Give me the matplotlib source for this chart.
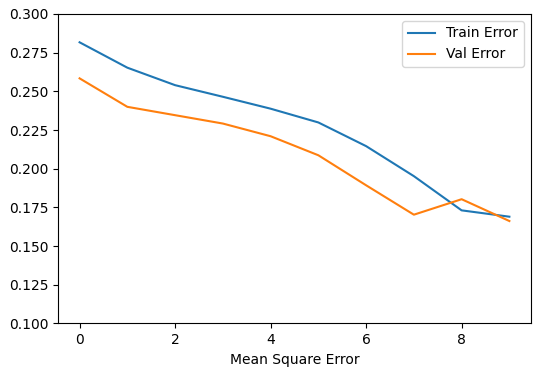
import numpy as np
import matplotlib
matplotlib.use("Agg")
import matplotlib.pyplot as plt

epochs = np.arange(10)
train_error = [0.2817, 0.2653, 0.254, 0.2465, 0.2388, 0.2299, 0.2146, 0.1952, 0.1731, 0.169]
val_error = [0.2584, 0.240, 0.2346, 0.2292, 0.221, 0.2087, 0.1893, 0.1703, 0.1803, 0.1662]

fig, ax = plt.subplots(figsize=(5.33, 3.68), dpi=100)
fig.subplots_adjust(left=0.109, right=0.996, top=0.962, bottom=0.121)

ax.plot(epochs, train_error, label="Train Error")
ax.plot(epochs, val_error, label="Val Error")
ax.set_ylim(0.1, 0.3)
ax.set_xlabel("Mean Square Error")
ax.legend(loc="upper right")

fig.savefig("out.png")
